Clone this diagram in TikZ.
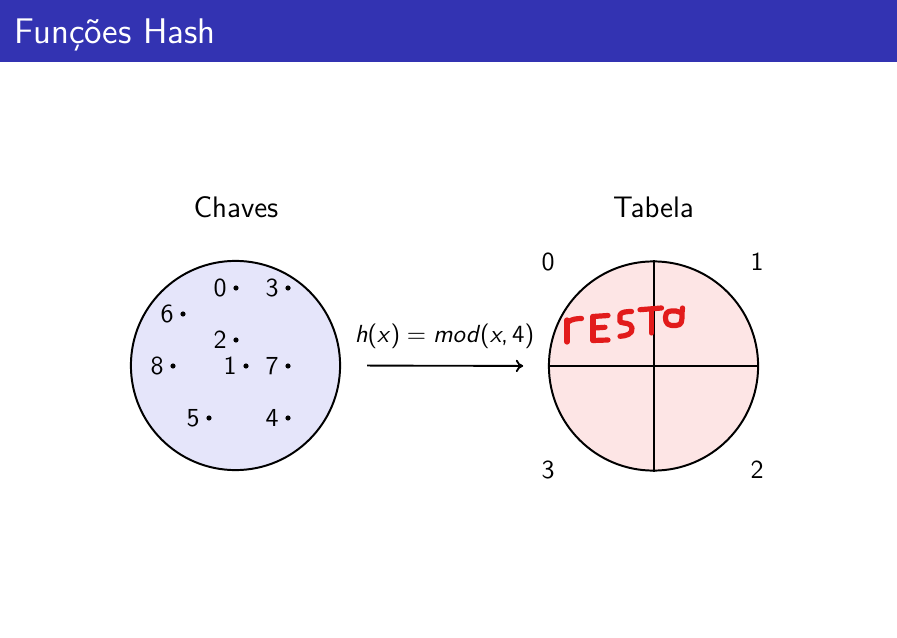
\documentclass[tikz,border=0pt]{standalone}
\usepackage{fontspec}
\usetikzlibrary{arrows.meta}
\definecolor{barblue}{HTML}{3333B2}
\definecolor{keyfill}{HTML}{E5E5FA}
\definecolor{tabfill}{HTML}{FDE5E5}
\definecolor{inkred}{HTML}{E21B1B}
\tikzset{
  setcircle/.style={circle, draw, line width=0.8pt, inner sep=0pt, minimum size=84.6pt},
  keydot/.style={circle, fill, inner sep=0pt, minimum size=2.1pt},
  keylabel/.style={font=\sffamily\fontsize{10.5}{12}\selectfont, inner sep=2.4pt},
  heading/.style={font=\sffamily\fontsize{12}{14}\selectfont, anchor=base},
  slotlabel/.style={font=\sffamily\fontsize{10.5}{12}\selectfont},
  handink/.style={draw=inkred, line width=2.1pt, line cap=round, line join=round},
}
\begin{document}
\begin{tikzpicture}[x=0.4044pt, y=-0.4044pt, font=\sffamily]
\useasboundingbox (0,0) rectangle (897,637);

% title bar
\fill[barblue] (0,0) rectangle (897,62);
\node[anchor=base west, text=white, inner sep=0pt, font=\sffamily\fontsize{14.4}{17}\selectfont] (title) at (14,44) {Funções Hash};

% set of keys
\node[setcircle, fill=keyfill] (chaves) at (235.5,365.5) {};
\node[heading] (chavestxt) at (236,218) {Chaves};
\foreach \k/\px/\py in {0/236/288, 3/288/288, 6/183/314, 2/236/340, 8/173/366, 1/246/366, 7/288/366, 5/209/418, 4/288/418}
  \node[keydot, label={[keylabel]left:\k}] (k\k) at (\px,\py) {};

% hash table split into four slots
\node[setcircle, fill=tabfill] (tabela) at (653.5,366) {};
\draw[line width=0.8pt] (tabela.north) -- (tabela.south);
\draw[line width=0.8pt] (tabela.west) -- (tabela.east);
\node[heading] (tabelatxt) at (653.5,218) {Tabela};
\node[slotlabel] (s0) at (548,262) {0};
\node[slotlabel] (s1) at (757,262) {1};
\node[slotlabel] (s2) at (757,470) {2};
\node[slotlabel] (s3) at (548,470) {3};

% hash function
\draw[-{To[length=3pt,width=5pt]}, line width=0.75pt, shorten <=10.5pt, shorten >=10pt] (chaves.east) -- node[above=3pt, font=\sffamily\fontsize{10}{12}\selectfont] (hx) {\textsl{h}(\textsl{x})\;=\;\textsl{mod}(\textsl{x},\,4)} (tabela.west);

% handwritten note
\draw[handink] (567,320) -- (567,342);
\draw[handink] (568,322) .. controls (572,319) and (577,318.5) .. (581.5,318.5);
\draw[handink] (593,316.5) -- (593,340.5);
\draw[handink] (593,316.5) -- (608,315.5);
\draw[handink] (594,328) -- (605,327.3);
\draw[handink] (593,340.5) -- (608,340);
\draw[handink] (631.5,311.5) .. controls (626,311.5) and (621,312) .. (620,315) -- (620,322) .. controls (624,324) and (631,322) .. (632,328) .. controls (633,334) and (626,336) .. (620,336.3);
\draw[handink] (640,309.7) -- (661.5,308);
\draw[handink] (651.5,309.5) -- (651.5,333);
\draw[handink] (682.5,308) -- (682,313) .. controls (682,322) and (682,325) .. (676,325.5) .. controls (668,326) and (665.5,324) .. (665.5,317) .. controls (665.5,311) and (670,310.5) .. (676,311) -- (682,313);
\end{tikzpicture}
\end{document}
